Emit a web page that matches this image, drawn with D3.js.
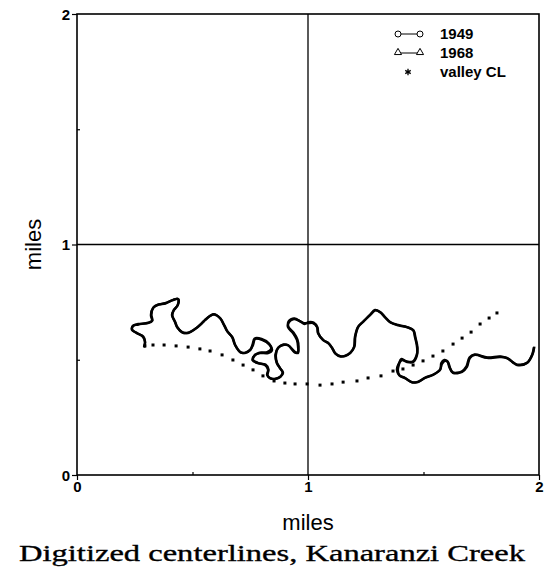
<!DOCTYPE html>
<html><head><meta charset="utf-8">
<script src="https://cdn.jsdelivr.net/npm/d3@7"></script>
<style>body{margin:0;background:#fff}</style>
</head><body><svg id="c" width="547" height="572"></svg>
<script>
const xTicks = [0, 1, 2];
const yTicks = [0, 1, 2];
const minorTicks = [0.5, 1.5];
const seriesNames = ["1949", "1968", "valley CL"];
const xLabel = "miles";
const yLabel = "miles";
const title = "Digitized centerlines, Kanaranzi Creek";

const cl1949 = [[0.290,0.555],[0.294,0.577],[0.286,0.599],[0.260,0.616],[0.238,0.629],[0.242,0.646],[0.264,0.655],[0.307,0.659],[0.325,0.668],[0.320,0.694],[0.329,0.725],[0.351,0.738],[0.381,0.746],[0.416,0.759],[0.437,0.764],[0.437,0.738],[0.420,0.716],[0.411,0.694],[0.424,0.664],[0.433,0.642],[0.455,0.620],[0.481,0.616],[0.511,0.633],[0.541,0.659],[0.554,0.672],[0.576,0.690],[0.593,0.698],[0.619,0.681],[0.636,0.651],[0.649,0.625],[0.671,0.599],[0.684,0.564],[0.706,0.534],[0.727,0.529],[0.749,0.542],[0.762,0.564],[0.771,0.590],[0.801,0.586],[0.835,0.564],[0.844,0.542],[0.827,0.529],[0.792,0.529],[0.771,0.521],[0.762,0.499],[0.784,0.486],[0.814,0.477],[0.827,0.456],[0.823,0.434],[0.835,0.421],[0.857,0.416],[0.879,0.425],[0.892,0.443],[0.879,0.464],[0.866,0.486],[0.861,0.521],[0.870,0.551],[0.892,0.564],[0.913,0.564],[0.944,0.534],[0.957,0.529],[0.957,0.555],[0.952,0.586],[0.935,0.616],[0.913,0.642],[0.918,0.664],[0.939,0.677],[0.965,0.668],[0.983,0.659],[1.000,0.659],[1.022,0.659],[1.039,0.642],[1.043,0.616],[1.065,0.586],[1.087,0.573],[1.104,0.551],[1.117,0.529],[1.139,0.516],[1.160,0.516],[1.182,0.529],[1.199,0.555],[1.203,0.599],[1.216,0.642],[1.238,0.664],[1.268,0.694],[1.290,0.716],[1.312,0.707],[1.333,0.685],[1.355,0.664],[1.390,0.651],[1.429,0.642],[1.455,0.629],[1.463,0.599],[1.472,0.555],[1.472,0.521],[1.455,0.490],[1.429,0.490],[1.407,0.499],[1.390,0.477],[1.385,0.456],[1.394,0.434],[1.420,0.421],[1.450,0.403],[1.476,0.403],[1.506,0.421],[1.541,0.434],[1.571,0.456],[1.580,0.482],[1.593,0.495],[1.606,0.490],[1.615,0.464],[1.628,0.443],[1.667,0.447],[1.688,0.469],[1.701,0.508],[1.723,0.521],[1.775,0.508],[1.831,0.512],[1.861,0.508],[1.905,0.477],[1.948,0.486],[1.970,0.521],[1.978,0.555]];

const cl1968 = [[0.291,0.553],[0.295,0.578],[0.287,0.601],[0.261,0.614],[0.239,0.631],[0.243,0.648],[0.266,0.653],[0.309,0.661],[0.326,0.670],[0.322,0.696],[0.331,0.727],[0.353,0.740],[0.383,0.744],[0.418,0.761],[0.439,0.762],[0.435,0.736],[0.418,0.714],[0.413,0.692],[0.426,0.662],[0.435,0.640],[0.457,0.618],[0.483,0.618],[0.513,0.635],[0.543,0.661],[0.556,0.674],[0.578,0.692],[0.595,0.696],[0.621,0.679],[0.638,0.649],[0.651,0.623],[0.673,0.597],[0.686,0.562],[0.708,0.532],[0.729,0.531],[0.751,0.544],[0.760,0.566],[0.769,0.592],[0.799,0.590],[0.831,0.570],[0.840,0.546],[0.823,0.533],[0.790,0.531],[0.769,0.519],[0.760,0.497],[0.786,0.484],[0.816,0.479],[0.829,0.458],[0.825,0.432],[0.837,0.419],[0.859,0.418],[0.881,0.427],[0.890,0.445],[0.877,0.466],[0.864,0.488],[0.859,0.523],[0.872,0.553],[0.894,0.566],[0.915,0.562],[0.942,0.532],[0.955,0.531],[0.959,0.557],[0.954,0.588],[0.937,0.618],[0.915,0.644],[0.916,0.666],[0.941,0.679],[0.967,0.666],[0.985,0.655],[1.002,0.663],[1.024,0.661],[1.041,0.640],[1.045,0.614],[1.067,0.584],[1.089,0.571],[1.106,0.549],[1.119,0.527],[1.141,0.514],[1.162,0.518],[1.184,0.531],[1.201,0.557],[1.205,0.601],[1.218,0.644],[1.240,0.666],[1.270,0.696],[1.292,0.714],[1.314,0.705],[1.335,0.683],[1.357,0.662],[1.392,0.649],[1.431,0.640],[1.457,0.627],[1.465,0.597],[1.474,0.553],[1.470,0.519],[1.453,0.492],[1.425,0.494],[1.403,0.503],[1.394,0.481],[1.389,0.454],[1.396,0.432],[1.422,0.419],[1.452,0.401],[1.478,0.405],[1.508,0.423],[1.543,0.436],[1.573,0.458],[1.577,0.486],[1.590,0.499],[1.603,0.494],[1.612,0.468],[1.626,0.445],[1.665,0.449],[1.686,0.471],[1.699,0.510],[1.721,0.523],[1.777,0.510],[1.833,0.514],[1.863,0.506],[1.907,0.479],[1.950,0.488],[1.972,0.523],[1.980,0.557]];

const valleyCL = [[0.294,0.560],[0.329,0.564],[0.377,0.564],[0.429,0.560],[0.481,0.555],[0.532,0.547],[0.576,0.538],[0.628,0.521],[0.675,0.499],[0.719,0.477],[0.762,0.456],[0.805,0.430],[0.853,0.408],[0.900,0.399],[0.944,0.395],[0.996,0.395],[1.052,0.390],[1.104,0.395],[1.152,0.403],[1.212,0.408],[1.260,0.421],[1.316,0.430],[1.368,0.451],[1.411,0.460],[1.455,0.477],[1.498,0.495],[1.541,0.516],[1.584,0.538],[1.628,0.568],[1.667,0.594],[1.706,0.620],[1.745,0.655],[1.784,0.681],[1.818,0.703]];

const svg = d3.select("#c");
const x = d3.scaleLinear().domain([0, 2]).range([77, 539]);
const y = d3.scaleLinear().domain([0, 2]).range([475, 14]);
const font = "Liberation Sans, Arial, sans-serif";

// grid lines at 1
svg.append("line").attr("x1", x(1)).attr("x2", x(1)).attr("y1", y(0)).attr("y2", y(2)).attr("stroke", "#000").attr("stroke-width", 1.3);
svg.append("line").attr("x1", x(0)).attr("x2", x(2)).attr("y1", y(1)).attr("y2", y(1)).attr("stroke", "#000").attr("stroke-width", 1.3);

// frame
svg.append("rect").attr("x", x(0)).attr("y", y(2)).attr("width", x(2) - x(0)).attr("height", y(0) - y(2))
  .attr("fill", "none").attr("stroke", "#000").attr("stroke-width", 1.6);

// axes
const gx = svg.append("g").attr("transform", `translate(0,${y(0)})`)
  .call(d3.axisBottom(x).tickValues(xTicks).tickFormat(d3.format("d")).tickSize(5));
const gy = svg.append("g").attr("transform", `translate(${x(0)},0)`)
  .call(d3.axisLeft(y).tickValues(yTicks).tickFormat(d3.format("d")).tickSize(5));
svg.append("g").attr("transform", `translate(0,${y(0)})`)
  .call(d3.axisBottom(x).tickValues(minorTicks).tickFormat("").tickSize(-3));
svg.append("g").attr("transform", `translate(${x(0)},0)`)
  .call(d3.axisLeft(y).tickValues(minorTicks).tickFormat("").tickSize(-3));
svg.selectAll(".domain").remove();
svg.selectAll(".tick line").attr("stroke", "#000").attr("stroke-width", 1.2);
svg.selectAll(".tick text").attr("font-family", font).attr("font-weight", "bold").attr("font-size", 15).attr("fill", "#000");
gy.selectAll(".tick text").attr("x", -7).attr("dy", "0.36em");
gx.selectAll(".tick text").attr("y", 6).attr("dy", "0.75em");

// axis titles
svg.append("text").attr("x", x(1)).attr("y", 530).attr("text-anchor", "middle")
  .attr("font-family", font).attr("font-size", 22).text(xLabel);
svg.append("text").attr("transform", `translate(41,${y(1)}) rotate(-90)`).attr("text-anchor", "middle")
  .attr("font-family", font).attr("font-size", 22).text(yLabel);

// chart title
svg.append("text").attr("x", 19).attr("y", 561).attr("textLength", 506).attr("lengthAdjust", "spacingAndGlyphs")
  .attr("font-family", "Liberation Serif, Times New Roman, serif").attr("font-size", 24)
  .attr("stroke", "#000").attr("stroke-width", 0.35).text(title);

// lines
const line = d3.line().x(d => x(d[0])).y(d => y(d[1])).curve(d3.curveCatmullRom.alpha(0.5));
svg.append("path").datum(cl1949).attr("d", line).attr("fill", "none").attr("stroke", "#000").attr("stroke-width", 2.4).attr("stroke-linejoin", "round");
svg.append("path").datum(cl1968).attr("d", line).attr("fill", "none").attr("stroke", "#000").attr("stroke-width", 2.4).attr("stroke-linejoin", "round");

svg.append("g").selectAll("rect").data(valleyCL).join("rect")
  .attr("x", d => x(d[0]) - 1.5).attr("y", d => y(d[1]) - 1.5).attr("width", 3).attr("height", 3).attr("fill", "#000");

// legend
const lg = svg.append("g").attr("font-family", font).attr("font-weight", "bold").attr("font-size", 15);
const ly = [34, 53, 72];
lg.append("line").attr("x1", 398).attr("x2", 420).attr("y1", ly[0]).attr("y2", ly[0]).attr("stroke", "#000");
[398, 420].forEach(cx => lg.append("circle").attr("cx", cx).attr("cy", ly[0]).attr("r", 3).attr("fill", "#fff").attr("stroke", "#000").attr("stroke-width", 1));
lg.append("line").attr("x1", 398).attr("x2", 420).attr("y1", ly[1]).attr("y2", ly[1]).attr("stroke", "#000");
const tri = d3.symbol().type(d3.symbolTriangle).size(22);
[398, 420].forEach(cx => lg.append("path").attr("d", tri).attr("transform", `translate(${cx},${ly[1] - 0.5})`).attr("fill", "#fff").attr("stroke", "#000").attr("stroke-width", 1));
lg.append("path").attr("d", d3.symbol().type(d3.symbolAsterisk).size(28)).attr("transform", `translate(408,${ly[2]})`)
  .attr("fill", "none").attr("stroke", "#000").attr("stroke-width", 1.3);
seriesNames.forEach((s, i) => lg.append("text").attr("x", 440).attr("y", ly[i]).attr("dy", "0.36em").text(s));
</script></body></html>
